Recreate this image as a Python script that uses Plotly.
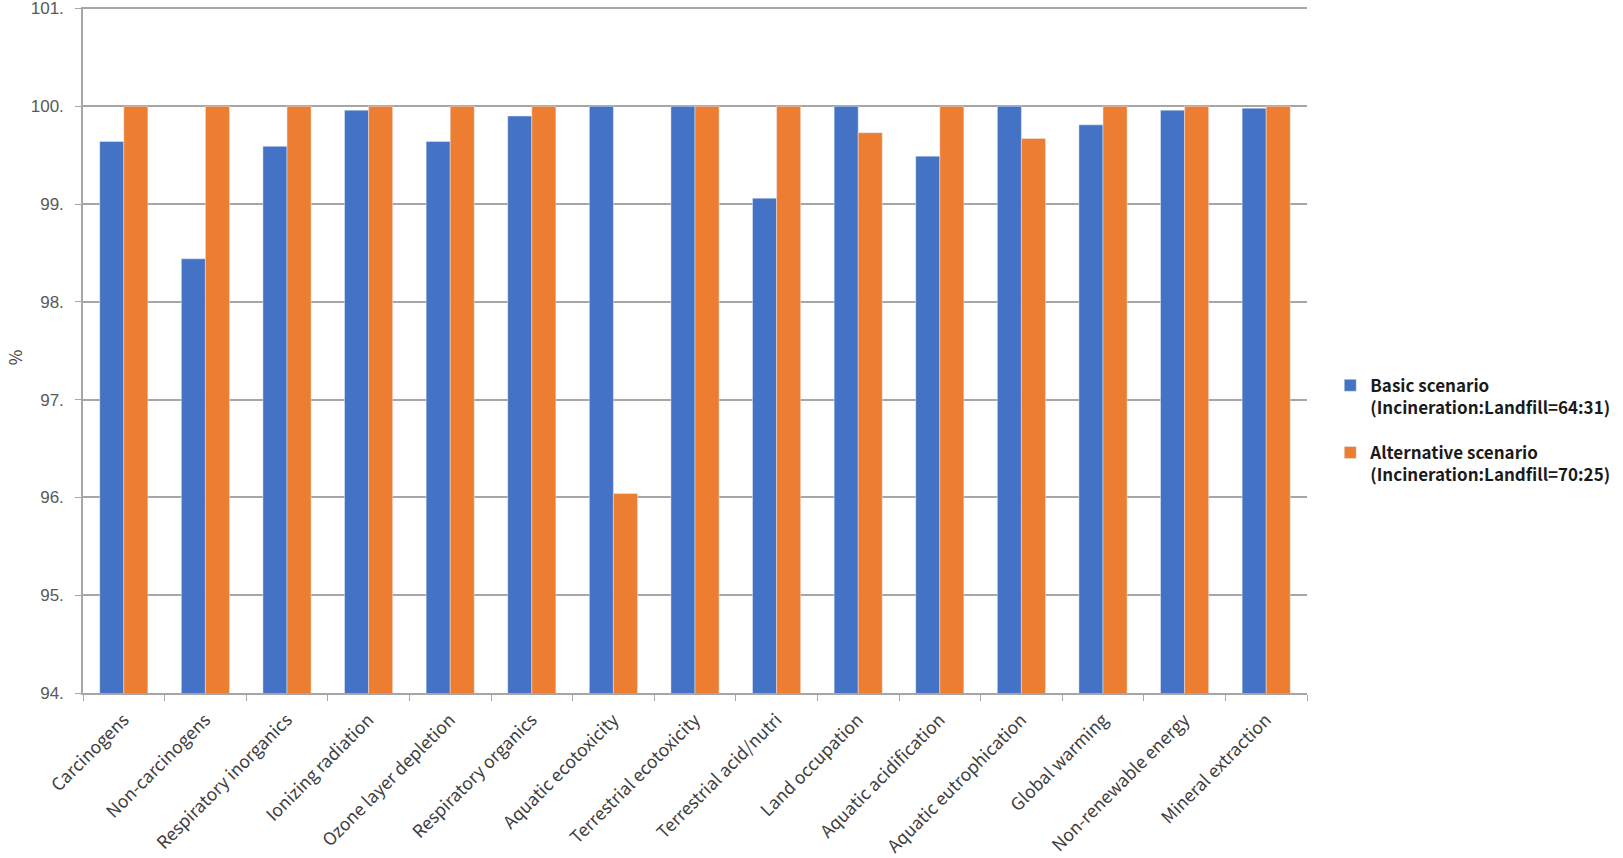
import plotly.graph_objects as go

categories = ["Carcinogens", "Non-carcinogens", "Respiratory inorganics", "Ionizing radiation",
              "Ozone layer depletion", "Respiratory organics", "Aquatic ecotoxicity",
              "Terrestrial ecotoxicity", "Terrestrial acid/nutri", "Land occupation",
              "Aquatic acidification", "Aquatic eutrophication", "Global warming",
              "Non-renewable energy", "Mineral extraction"]
basic = [99.64, 98.44, 99.59, 99.96, 99.64, 99.90, 100.0, 100.0, 99.06, 100.0,
         99.49, 100.0, 99.81, 99.96, 99.98]
alternative = [100.0, 100.0, 100.0, 100.0, 100.0, 100.0, 96.04, 100.0, 100.0, 99.73,
               100.0, 99.67, 100.0, 100.0, 100.0]
tick_vals = [94, 95, 96, 97, 98, 99, 100, 101]
tick_text = ["94.", "95.", "96.", "97.", "98.", "99.", "100.", "101."]
series_names = ["Basic scenario<br>(Incineration:Landfill=64:31)",
                "Alternative scenario<br>(Incineration:Landfill=70:25)"]
y_title = "%"

FONT = "Noto Sans CJK KR"
NUMFONT = "Liberation Sans"
fig = go.Figure()
fig.add_trace(go.Bar(x=categories, y=basic, name=series_names[0], marker_color="#4472C4",
                     base=0, legendgroup="a"))
fig.add_trace(go.Bar(x=categories, y=alternative, name=series_names[1], marker_color="#ED7D31",
                     base=0, legendgroup="b"))

fig.update_layout(
    width=1623, height=858,
    margin=dict(l=83, r=313, t=7, b=165),
    plot_bgcolor="white", paper_bgcolor="white",
    barmode="group", bargap=0.41, bargroupgap=0,
    font=dict(family=FONT, color="#404040"),
    legend=dict(x=1.019, xanchor="left", y=0.383, yanchor="middle", valign="top",
                font=dict(family=FONT, size=17, color="#1a1a1a", weight="bold"),
                tracegroupgap=20, bgcolor="rgba(0,0,0,0)"),
    showlegend=True,
)
fig.add_annotation(text=y_title, xref="paper", yref="paper", x=-0.056, y=0.49,
                   xanchor="center", yanchor="middle", textangle=-90, showarrow=False,
                   font=dict(family=FONT, size=17, color="#404040"))
fig.update_yaxes(range=[94, 101.015], tickvals=tick_vals, ticktext=tick_text,
                 automargin=False, ticklabeloverflow="allow",
                 showgrid=True, gridcolor="#a6a6a6", gridwidth=1.5,
                 showline=True, linecolor="#a6a6a6", linewidth=1.5,
                 ticks="outside", ticklen=6, tickcolor="#a6a6a6", ticklabelstandoff=8,
                 tickfont=dict(family=NUMFONT, size=17, color="#595959"),
                 zeroline=False)
fig.update_xaxes(showline=True, linecolor="#a6a6a6", linewidth=1.5, automargin=False,
                 ticks="outside", tickson="boundaries", ticklen=6, tickcolor="#a6a6a6",
                 tickangle=-45, ticklabelstandoff=8,
                 tickfont=dict(family=FONT, size=17.5, color="#404040"))

fig.write_html("out.html")
